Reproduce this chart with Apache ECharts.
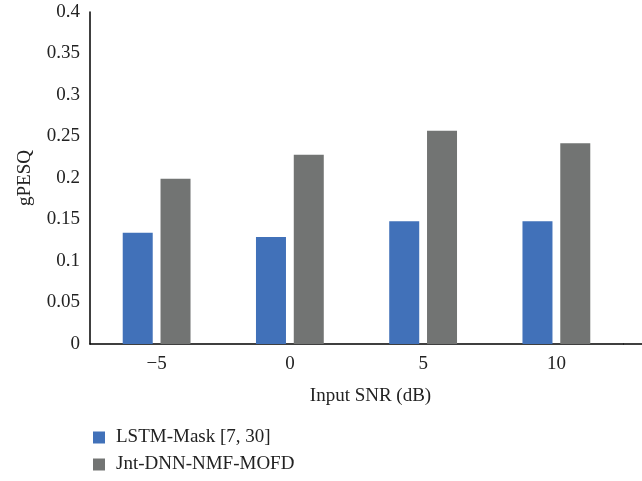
<!DOCTYPE html>
<html>
<head>
<meta charset="utf-8">
<script src="https://cdn.jsdelivr.net/npm/echarts@6/dist/echarts.min.js"></script>
<style>
  html, body { margin: 0; padding: 0; background: #fff; }
  #chart { width: 642px; height: 481px; }
</style>
</head>
<body>
<div id="chart"></div>
<script>
// Input SNR levels (dB)
const categories = ['\u22125', '0', '5', '10'];
// gPESQ per method
const lstmMask = [0.134, 0.129, 0.148, 0.148];
const jntDnnNmf = [0.199, 0.228, 0.257, 0.242];
// y-axis range
const yMin = 0, yMax = 0.4, yStep = 0.05;

const font = 'Liberation Serif';
const fs = 19;
const chart = echarts.init(document.getElementById('chart'));
chart.setOption({
  animation: false,
  textStyle: { fontFamily: font },
  grid: { left: 90, right: 19, top: 12, bottom: 137, containLabel: false },
  legend: {
    orient: 'vertical',
    left: 88,
    top: 423,
    height: 60,
    itemWidth: 12,
    itemHeight: 12,
    itemGap: 8,
    icon: 'rect',
    textStyle: { fontFamily: font, fontSize: fs, color: '#222', padding: [0, 0, 0, 6] },
    data: ['LSTM-Mask [7, 30]', 'Jnt-DNN-NMF-MOFD']
  },
  xAxis: {
    type: 'category',
    data: categories,
    name: 'Input SNR (dB)',
    nameLocation: 'middle',
    nameGap: 43,
    nameTextStyle: { fontFamily: font, fontSize: fs, color: '#222', padding: [0, 0, 0, 28] },
    axisLine: { lineStyle: { color: '#000', width: 1.5 } },
    axisTick: { show: false },
    axisLabel: { fontFamily: font, fontSize: fs, color: '#222', margin: 11 }
  },
  yAxis: {
    type: 'value',
    min: yMin,
    max: yMax,
    interval: yStep,
    name: 'gPESQ',
    nameLocation: 'middle',
    nameGap: 55,
    nameTextStyle: { fontFamily: font, fontSize: fs, color: '#222' },
    axisLine: { show: true, lineStyle: { color: '#000', width: 1.5 } },
    axisTick: { show: false },
    splitLine: { show: false },
    axisLabel: {
      fontFamily: font, fontSize: fs, color: '#222', margin: 10,
      formatter: v => String(+v.toFixed(2))
    }
  },
  series: [
    {
      name: 'LSTM-Mask [7, 30]',
      type: 'bar',
      data: lstmMask,
      barWidth: 30,
      barGap: '26%',
      itemStyle: { color: '#4171b9' }
    },
    {
      name: 'Jnt-DNN-NMF-MOFD',
      type: 'bar',
      data: jntDnnNmf,
      barWidth: 30,
      itemStyle: { color: '#727473' }
    }
  ],
  graphic: [{
    // x-axis baseline runs on to the right edge
    type: 'line',
    shape: { x1: 623, y1: 344, x2: 642, y2: 344 },
    style: { stroke: '#000', lineWidth: 1.5 }
  }]
});
</script>
</body>
</html>
